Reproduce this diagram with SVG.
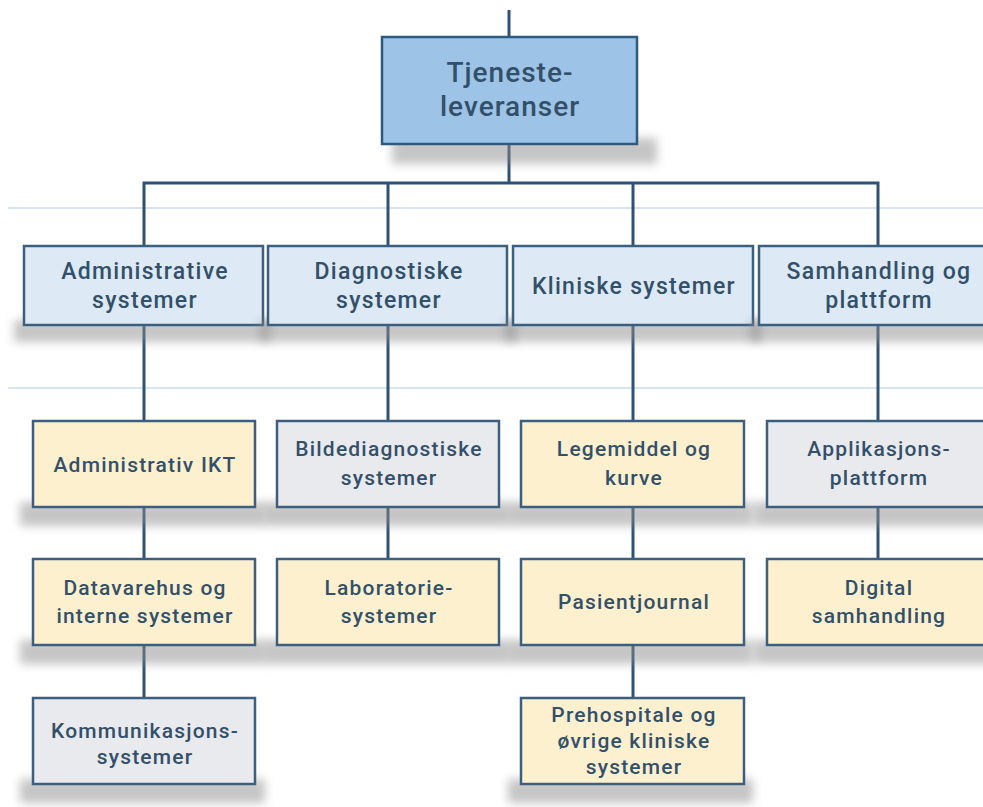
<svg xmlns="http://www.w3.org/2000/svg" width="983" height="807" viewBox="0 0 983 807">
  <defs>
    <filter id="soft" x="-20%" y="-100%" width="140%" height="300%">
      <feGaussianBlur stdDeviation="5"/>
    </filter>
    <style>
      .bg { fill: #ffffff; }
      .band { stroke: #c9dcef; stroke-width: 1.5; fill: none; }
      .shadow { fill: #8c8c8c; opacity: 0.5; filter: url(#soft); }
      .box { stroke: #3d5f7f; stroke-width: 2.5; }
      .root { fill: #9dc3e6; stroke: #2f5a80; }
      .cat { fill: #dde9f5; }
      .yel { fill: #fdf0cf; }
      .gry { fill: #e9eaed; }
      .wire { stroke: #2e5275; stroke-width: 3; fill: none; }
      text { font-family: Roboto, "Open Sans", "Liberation Sans", sans-serif; font-weight: 500; fill: #33506a; text-anchor: middle; }
      .t0 { font-size: 28px; letter-spacing: 1px; }
      .t1 { font-size: 23px; letter-spacing: 1.3px; }
      .t2 { font-size: 21px; letter-spacing: 1.2px; }
    </style>
  </defs>

  <rect class="bg" x="0" y="0" width="983" height="807"/>

  <!-- faint horizontal guide bands -->
  <line class="band" x1="8" y1="208" x2="983" y2="208"/>
  <line class="band" x1="8" y1="388" x2="983" y2="388"/>

  <!-- connectors -->
  <g id="connectors">
    <line class="wire" x1="509" y1="10" x2="509" y2="37"/>
    <line class="wire" x1="509" y1="144" x2="509" y2="183"/>
    <polyline class="wire" points="144,246 144,183 878,183 878,246"/>
    <line class="wire" x1="388" y1="183" x2="388" y2="246"/>
    <line class="wire" x1="633" y1="183" x2="633" y2="246"/>

    <line class="wire" x1="144" y1="325" x2="144" y2="421"/>
    <line class="wire" x1="144" y1="507" x2="144" y2="559"/>
    <line class="wire" x1="144" y1="645" x2="144" y2="698"/>

    <line class="wire" x1="388" y1="325" x2="388" y2="421"/>
    <line class="wire" x1="388" y1="507" x2="388" y2="559"/>

    <line class="wire" x1="633" y1="325" x2="633" y2="421"/>
    <line class="wire" x1="633" y1="507" x2="633" y2="559"/>
    <line class="wire" x1="633" y1="645" x2="633" y2="698"/>

    <line class="wire" x1="878" y1="325" x2="878" y2="421"/>
    <line class="wire" x1="878" y1="507" x2="878" y2="559"/>
  </g>

  <!-- root -->
  <g id="tjenesteleveranser">
    <rect class="shadow" x="392" y="138" width="265" height="26"/>
    <rect class="box root" x="382" y="37" width="255" height="107"/>
    <text class="t0" x="510" y="82">Tjeneste-</text>
    <text class="t0" x="510" y="116">leveranser</text>
  </g>

  <!-- level 1 -->
  <g id="administrative-systemer">
    <rect class="shadow" x="14" y="320" width="256" height="22"/>
    <rect class="box cat" x="24" y="246" width="239" height="79"/>
    <text class="t1" x="145" y="279">Administrative</text>
    <text class="t1" x="145" y="308">systemer</text>
  </g>
  <g id="diagnostiske-systemer">
    <rect class="shadow" x="260" y="320" width="256" height="22"/>
    <rect class="box cat" x="268" y="246" width="239" height="79"/>
    <text class="t1" x="389" y="279">Diagnostiske</text>
    <text class="t1" x="389" y="308">systemer</text>
  </g>
  <g id="kliniske-systemer">
    <rect class="shadow" x="505" y="320" width="256" height="22"/>
    <rect class="box cat" x="513" y="246" width="240" height="79"/>
    <text class="t1" x="634" y="294">Kliniske systemer</text>
  </g>
  <g id="samhandling-og-plattform">
    <rect class="shadow" x="750" y="320" width="256" height="22"/>
    <rect class="box cat" x="759" y="246" width="239" height="79"/>
    <text class="t1" x="879" y="279">Samhandling og</text>
    <text class="t1" x="879" y="308">plattform</text>
  </g>

  <!-- level 2 -->
  <g id="administrativ-ikt">
    <rect class="shadow" x="20" y="502" width="245" height="24"/>
    <rect class="box yel" x="33" y="421" width="222" height="86"/>
    <text class="t2" x="145" y="472">Administrativ IKT</text>
  </g>
  <g id="bildediagnostiske-systemer">
    <rect class="shadow" x="264" y="502" width="245" height="24"/>
    <rect class="box gry" x="277" y="421" width="222" height="86"/>
    <text class="t2" x="389" y="456">Bildediagnostiske</text>
    <text class="t2" x="389" y="485">systemer</text>
  </g>
  <g id="legemiddel-og-kurve">
    <rect class="shadow" x="508" y="502" width="245" height="24"/>
    <rect class="box yel" x="521" y="421" width="223" height="86"/>
    <text class="t2" x="634" y="456">Legemiddel og</text>
    <text class="t2" x="634" y="485">kurve</text>
  </g>
  <g id="applikasjonsplattform">
    <rect class="shadow" x="754" y="502" width="245" height="24"/>
    <rect class="box gry" x="767" y="421" width="223" height="86"/>
    <text class="t2" x="879" y="456">Applikasjons-</text>
    <text class="t2" x="879" y="485">plattform</text>
  </g>

  <!-- level 3 -->
  <g id="datavarehus-og-interne-systemer">
    <rect class="shadow" x="20" y="640" width="245" height="24"/>
    <rect class="box yel" x="33" y="559" width="222" height="86"/>
    <text class="t2" x="145" y="595">Datavarehus og</text>
    <text class="t2" x="145" y="623">interne systemer</text>
  </g>
  <g id="laboratoriesystemer">
    <rect class="shadow" x="264" y="640" width="245" height="24"/>
    <rect class="box yel" x="277" y="559" width="222" height="86"/>
    <text class="t2" x="389" y="595">Laboratorie-</text>
    <text class="t2" x="389" y="623">systemer</text>
  </g>
  <g id="pasientjournal">
    <rect class="shadow" x="508" y="640" width="245" height="24"/>
    <rect class="box yel" x="521" y="559" width="223" height="86"/>
    <text class="t2" x="634" y="609">Pasientjournal</text>
  </g>
  <g id="digital-samhandling">
    <rect class="shadow" x="754" y="640" width="245" height="24"/>
    <rect class="box yel" x="767" y="559" width="223" height="86"/>
    <text class="t2" x="879" y="595">Digital</text>
    <text class="t2" x="879" y="623">samhandling</text>
  </g>

  <!-- level 4 -->
  <g id="kommunikasjonssystemer">
    <rect class="shadow" x="20" y="779" width="245" height="24"/>
    <rect class="box gry" x="33" y="698" width="222" height="86"/>
    <text class="t2" x="145" y="738">Kommunikasjons-</text>
    <text class="t2" x="145" y="764">systemer</text>
  </g>
  <g id="prehospitale-og-ovrige-kliniske-systemer">
    <rect class="shadow" x="508" y="779" width="245" height="24"/>
    <rect class="box yel" x="521" y="698" width="223" height="86"/>
    <text class="t2" x="634" y="722">Prehospitale og</text>
    <text class="t2" x="634" y="748">øvrige kliniske</text>
    <text class="t2" x="634" y="774">systemer</text>
  </g>
</svg>
